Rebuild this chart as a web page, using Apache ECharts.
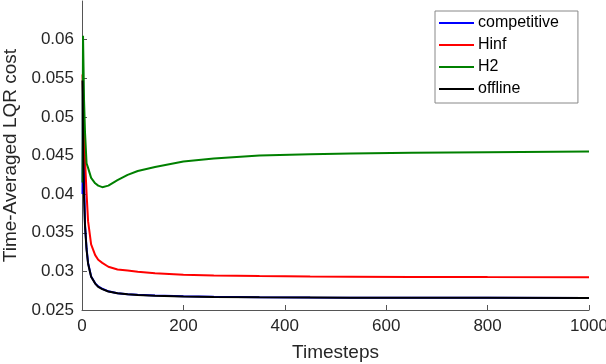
<!DOCTYPE html>
<html>
<head>
<meta charset="utf-8">
<script src="https://cdn.jsdelivr.net/npm/echarts@6/dist/echarts.min.js"></script>
<style>
  html, body { margin: 0; padding: 0; background: #fff; }
  #chart { width: 606px; height: 364px; }
</style>
</head>
<body>
<div id="chart"></div>
<script>
const steps = [1, 2, 3, 4, 6, 9, 12, 18, 26, 32, 40, 52, 70, 90, 110, 144, 200, 260, 350, 450, 530, 650, 800, 1000];

const competitive = [0.0400, 0.0548, 0.0472, 0.0428, 0.0360, 0.0330, 0.0311, 0.02935, 0.02845, 0.02805, 0.02775, 0.02742, 0.02718, 0.02705, 0.02697, 0.02687, 0.02677, 0.02670, 0.02665, 0.02661, 0.02660, 0.02658, 0.02657, 0.02656];
const hinf = [0.0555, 0.0530, 0.0505, 0.0482, 0.0444, 0.0401, 0.0365, 0.0335, 0.0321, 0.0315, 0.0311, 0.0306, 0.03025, 0.0301, 0.02995, 0.02975, 0.02955, 0.02948, 0.02940, 0.02935, 0.02932, 0.02928, 0.02926, 0.02924];
const h2 = [0.0415, 0.0605, 0.0565, 0.0522, 0.0479, 0.0440, 0.0434, 0.0421, 0.0414, 0.0411, 0.0409, 0.0411, 0.0418, 0.0425, 0.0430, 0.0435, 0.04423, 0.0446, 0.0450, 0.04515, 0.04526, 0.04535, 0.04543, 0.04552];
const offline = [0.0547, 0.0470, 0.0426, 0.0395, 0.0358, 0.0328, 0.0310, 0.0293, 0.02842, 0.0280, 0.0277, 0.0274, 0.02716, 0.02703, 0.02695, 0.02685, 0.02676, 0.02669, 0.02664, 0.02661, 0.02659, 0.02658, 0.02657, 0.02656];

const xTicks = [0, 200, 400, 600, 800, 1000];
const yTicks = [0.025, 0.03, 0.035, 0.04, 0.045, 0.05, 0.055, 0.06];

function pairs(vals) {
  return steps.map((t, i) => [t, vals[i]]);
}

const chart = echarts.init(document.getElementById('chart'));

const axisCol = '#555';
const textCol = '#262626';
const font = 'Liberation Sans, Arial, Helvetica, sans-serif';
// plain line for legend (tiny slivers keep the box 35x14)
const lineIcon = 'path://M0,0L35,0L35,0.01L0,0.01Z M0,6L35,6L35,8L0,8Z M0,13.99L35,13.99L35,14L0,14Z';

function line(name, vals, z) {
  return {
    name: name, type: 'line', data: pairs(vals), symbol: 'none',
    lineStyle: { width: 2 }, z: z
  };
}

const option = {
  animation: false,
  color: ['#0000ff', '#ff0000', '#008000', '#000000'],
  grid: { left: 82, right: 17, top: 1, bottom: 54, outerBoundsMode: 'none', containLabel: false },
  legend: {
    orient: 'vertical',
    left: 435,
    top: 11,
    padding: [4, 19, 6, 4],
    itemGap: 6,
    itemWidth: 35,
    itemHeight: 14,
    icon: lineIcon,
    borderColor: '#888',
    borderWidth: 1,
    backgroundColor: '#fff',
    textStyle: { fontFamily: font, fontSize: 16, color: '#000', padding: [0, 0, 0, -1] },
    data: ['competitive', 'Hinf', 'H2', 'offline']
  },
  xAxis: {
    type: 'value',
    min: xTicks[0],
    max: xTicks[xTicks.length - 1],
    interval: 200,
    name: 'Timesteps',
    nameLocation: 'middle',
    nameGap: 33,
    nameTextStyle: { fontFamily: font, fontSize: 19, color: textCol },
    axisLine: { lineStyle: { color: axisCol, width: 1 } },
    axisTick: { inside: true, length: 5, lineStyle: { color: axisCol } },
    axisLabel: { fontFamily: font, fontSize: 17, color: textCol, margin: 8, formatter: v => String(v) },
    splitLine: { show: false }
  },
  yAxis: {
    type: 'value',
    min: yTicks[0],
    max: 0.065,
    interval: 0.005,
    name: 'Time-Averaged LQR cost',
    nameLocation: 'middle',
    nameGap: 56,
    nameTextStyle: { fontFamily: font, fontSize: 19, color: textCol },
    axisLine: { show: true, lineStyle: { color: axisCol, width: 1 } },
    axisTick: { show: true, inside: true, length: 5, lineStyle: { color: axisCol } },
    axisLabel: {
      fontFamily: font, fontSize: 17, color: textCol, margin: 8,
      showMaxLabel: false,
      formatter: v => {
        const r = Math.round(v * 1000) / 1000;
        return yTicks.some(t => Math.abs(t - r) < 1e-9) ? String(r) : '';
      }
    },
    splitLine: { show: false }
  },
  series: [
    line('competitive', competitive, 2),
    line('Hinf', hinf, 3),
    line('H2', h2, 4),
    line('offline', offline, 5)
  ]
};

chart.setOption(option);
</script>
</body>
</html>
